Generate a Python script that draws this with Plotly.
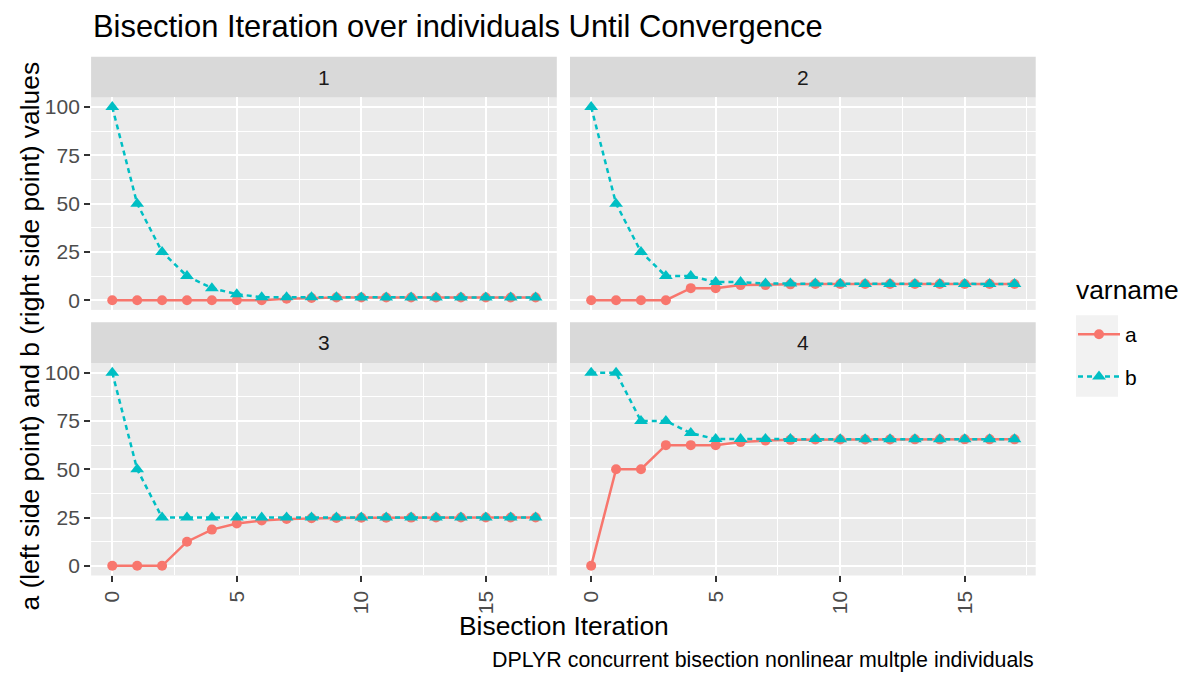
import plotly.graph_objects as go

W, H = 1185, 676

iteration = list(range(18))
panels = ["1", "2", "3", "4"]
series_names = ["a", "b"]

a1 = [0, 0, 0, 0, 0, 0, 0, 0.78125, 1.171875, 1.367188, 1.367188, 1.367188, 1.391602, 1.391602, 1.397705, 1.397705, 1.399231, 1.399994]
b1 = [100, 50, 25, 12.5, 6.25, 3.125, 1.5625, 1.5625, 1.5625, 1.5625, 1.464844, 1.416016, 1.416016, 1.403809, 1.403809, 1.400757, 1.400757, 1.400757]

a2 = [0, 0, 0, 0, 6.25, 6.25, 7.8125, 7.8125, 8.203125, 8.398438, 8.398438, 8.398438, 8.422852, 8.422852, 8.422852, 8.425903, 8.425903, 8.426666]
b2 = [100, 50, 25, 12.5, 12.5, 9.375, 9.375, 8.59375, 8.59375, 8.59375, 8.496094, 8.447266, 8.447266, 8.435059, 8.428955, 8.428955, 8.427429, 8.427429]

a3 = [0, 0, 0, 12.5, 18.75, 21.875, 23.4375, 24.21875, 24.609375, 24.804688, 24.902344, 24.951172, 24.975586, 24.987793, 24.993896, 24.996948, 24.998474, 24.999237]
b3 = [100, 50, 25, 25, 25, 25, 25, 25, 25, 25, 25, 25, 25, 25, 25, 25, 25, 25]

a4 = [0, 50, 50, 62.5, 62.5, 62.5, 64.0625, 64.84375, 65.234375, 65.429688, 65.429688, 65.478516, 65.478516, 65.490723, 65.496826, 65.496826, 65.498352, 65.499115]
b4 = [100, 100, 75, 75, 68.75, 65.625, 65.625, 65.625, 65.625, 65.625, 65.527344, 65.527344, 65.50293, 65.50293, 65.50293, 65.499878, 65.499878, 65.499878]

a_values = [a1, a2, a3, a4]
b_values = [b1, b2, b3, b4]

y_ticks = [0, 25, 50, 75, 100]
x_ticks = [0, 5, 10, 15]

title_text = "Bisection Iteration over individuals Until Convergence"
x_title = "Bisection Iteration"
y_title = "a (left side point) and b (right side point) values"
caption = "DPLYR concurrent bisection nonlinear multple individuals"
legend_title = "varname"

COL_A = "#F8766D"
COL_B = "#00BFC4"
FONT = "Liberation Sans, Arial, Helvetica, sans-serif"

TICK_FS = 21
CAP_FS = 21.4
AXT_FS = 26.4
TITLE_FS = 30.9

# pixel layout (top-left origin)
col_x = [(91.1, 556.8), (570.0, 1035.7)]
row_y = [(96.0, 309.7), (363.2, 576.9)]
strip_h = 41.0

def px_x(x):
    return x / W

def px_y(y):
    return 1 - y / H

fig = go.Figure()

for i, p in enumerate(panels):
    ax = "" if i == 0 else str(i + 1)
    fig.add_trace(go.Scatter(
        x=iteration, y=a_values[i], mode="lines+markers", name=series_names[0],
        legendgroup="a", showlegend=(i == 0),
        line=dict(color=COL_A, width=2.5),
        marker=dict(color=COL_A, size=10, symbol="circle"),
        xaxis="x" + ax, yaxis="y" + ax,
    ))
for i, p in enumerate(panels):
    ax = "" if i == 0 else str(i + 1)
    fig.add_trace(go.Scatter(
        x=iteration, y=b_values[i], mode="lines+markers", name=series_names[1],
        legendgroup="b", showlegend=(i == 0),
        line=dict(color=COL_B, width=2.5, dash="5px,4px"),
        marker=dict(color=COL_B, size=12, symbol="triangle-up"),
        xaxis="x" + ax, yaxis="y" + ax,
    ))

layout = dict(
    width=W, height=H,
    margin=dict(l=0, r=0, t=0, b=0),
    paper_bgcolor="white",
    plot_bgcolor="#EBEBEB",
    font=dict(family=FONT, color="#000000"),
    showlegend=True,
    legend=dict(
        x=px_x(1073), y=px_y(314), xanchor="left", yanchor="top",
        font=dict(size=TICK_FS, color="#000000"),
        bgcolor="rgba(0,0,0,0)",
        tracegroupgap=12,
        itemwidth=42,
    ),
)

shapes = []
annotations = []
for i, p in enumerate(panels):
    r, c = divmod(i, 2)
    ax = "" if i == 0 else str(i + 1)
    x0, x1 = col_x[c]
    y0, y1 = row_y[r]
    xa = dict(
        domain=[px_x(x0), px_x(x1)], range=[-0.85, 17.85], anchor="y" + ax,
        tickvals=x_ticks, ticktext=[str(v) for v in x_ticks],
        showticklabels=(r == 1), ticks="outside" if r == 1 else "",
        ticklen=6, tickwidth=2, tickcolor="#333333",
        tickangle=-90, tickfont=dict(size=TICK_FS, color="#4D4D4D", family=FONT),
        showgrid=True, gridcolor="white", gridwidth=2.4,
        minor=dict(tickvals=[2.5, 7.5, 12.5, 17.5], showgrid=True, gridcolor="white", gridwidth=1.2, ticks=""),
        zeroline=False, showline=False,
    )
    ya = dict(
        domain=[px_y(y1), px_y(y0)], range=[-5, 105], anchor="x" + ax,
        tickvals=y_ticks, ticktext=[str(v) for v in y_ticks],
        showticklabels=(c == 0), ticks="outside" if c == 0 else "",
        ticklen=6, tickwidth=2, tickcolor="#333333",
        tickfont=dict(size=TICK_FS, color="#4D4D4D", family=FONT),
        showgrid=True, gridcolor="white", gridwidth=2.4,
        minor=dict(tickvals=[12.5, 37.5, 62.5, 87.5], showgrid=True, gridcolor="white", gridwidth=1.2, ticks=""),
        zeroline=False, showline=False,
    )
    layout["xaxis" + ax] = xa
    layout["yaxis" + ax] = ya
    # strip
    shapes.append(dict(type="rect", xref="paper", yref="paper",
                       x0=px_x(x0), x1=px_x(x1), y0=px_y(y0), y1=px_y(y0 - strip_h),
                       fillcolor="#D9D9D9", line=dict(width=0), layer="below"))
    annotations.append(dict(text=p, xref="paper", yref="paper",
                            x=px_x((x0 + x1) / 2), y=px_y(y0 - strip_h / 2),
                            xanchor="center", yanchor="middle", showarrow=False,
                            font=dict(size=TICK_FS, color="#1A1A1A")))

# legend key background
shapes.append(dict(type="rect", xref="paper", yref="paper",
                   x0=px_x(1076), x1=px_x(1118), y0=px_y(397), y1=px_y(315),
                   fillcolor="#F2F2F2", line=dict(width=0), layer="below"))

annotations += [
    dict(text=title_text, xref="paper", yref="paper", x=px_x(91), y=px_y(25),
         xanchor="left", yanchor="middle", showarrow=False, font=dict(size=TITLE_FS, color="#000000")),
    dict(text=x_title, xref="paper", yref="paper", x=px_x(563.5), y=px_y(628),
         xanchor="center", yanchor="middle", showarrow=False, font=dict(size=AXT_FS, color="#000000")),
    dict(text=y_title, xref="paper", yref="paper", x=px_x(30), y=px_y(336.5),
         xanchor="center", yanchor="middle", textangle=-90, showarrow=False,
         font=dict(size=AXT_FS, color="#000000")),
    dict(text=caption, xref="paper", yref="paper", x=px_x(1036), y=px_y(662),
         xanchor="right", yanchor="middle", showarrow=False, font=dict(size=CAP_FS, color="#000000")),
    dict(text=legend_title, xref="paper", yref="paper", x=px_x(1074), y=px_y(290),
         xanchor="left", yanchor="middle", showarrow=False, font=dict(size=AXT_FS, color="#000000")),
]
layout["shapes"] = shapes
layout["annotations"] = annotations

fig.update_layout(**layout)
fig.write_html("out.html")
